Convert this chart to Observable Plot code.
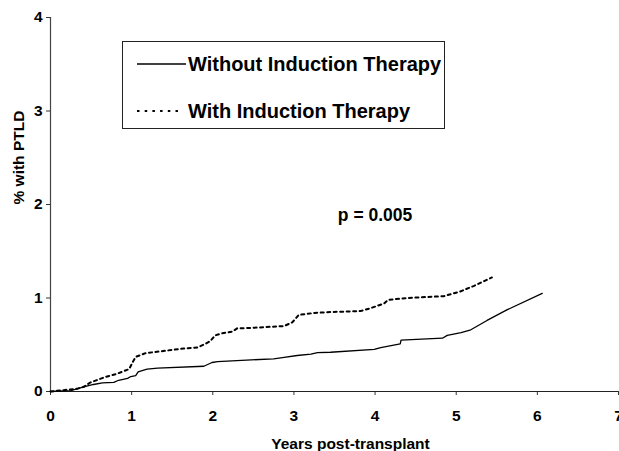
<!DOCTYPE html>
<html>
<head>
<meta charset="utf-8">
<script src="https://cdn.jsdelivr.net/npm/d3@7"></script>
<script src="https://cdn.jsdelivr.net/npm/@observablehq/plot@0.6"></script>
<style>
  html, body { margin: 0; padding: 0; background: #fff; }
  #wrap { position: relative; width: 619px; height: 451px; overflow: hidden; font-family: "Liberation Sans", Arial, sans-serif; }
  #legend { position: absolute; left: 122px; top: 41px; width: 323px; height: 88px; border: 1px solid #222; box-sizing: border-box; background: #fff; }
  .lg-row { position: absolute; left: 0; height: 24px; display: flex; align-items: center; font-weight: bold; font-size: 20px; color: #000; white-space: nowrap; }
  .lg-row svg { margin-left: 13px; margin-right: 2px; }
</style>
</head>
<body>
<div id="wrap"></div>
<script>
// Series: years post-transplant and cumulative % with PTLD
const withoutYears = [0, 0.25, 0.41, 0.53, 0.64, 0.78, 0.84, 0.95, 0.99, 1.05, 1.08, 1.19, 1.32, 1.89, 1.99, 2.06, 2.75, 2.88, 3.04, 3.21, 3.29, 3.45, 3.99, 4.07, 4.31, 4.32, 4.83, 4.89, 5.06, 5.18, 5.38, 5.63, 6.06];
const withoutPct   = [0, 0.01, 0.05, 0.075, 0.093, 0.097, 0.12, 0.14, 0.16, 0.17, 0.21, 0.24, 0.25, 0.27, 0.31, 0.32, 0.35, 0.365, 0.385, 0.40, 0.415, 0.42, 0.45, 0.47, 0.51, 0.55, 0.57, 0.60, 0.63, 0.66, 0.76, 0.875, 1.05];
const withYears = [0, 0.33, 0.41, 0.49, 0.66, 0.82, 0.97, 1.01, 1.05, 1.17, 1.36, 1.64, 1.81, 1.91, 1.97, 2.03, 2.10, 2.24, 2.30, 2.47, 2.88, 2.98, 3.06, 3.25, 3.45, 3.82, 3.94, 4.11, 4.16, 4.40, 4.85, 5.05, 5.22, 5.44];
const withPct   = [0, 0.03, 0.05, 0.096, 0.15, 0.19, 0.24, 0.31, 0.37, 0.41, 0.43, 0.46, 0.47, 0.51, 0.54, 0.60, 0.62, 0.64, 0.675, 0.68, 0.70, 0.74, 0.82, 0.84, 0.85, 0.86, 0.89, 0.94, 0.98, 1.00, 1.02, 1.07, 1.13, 1.22];

const seriesNames = ["Without Induction Therapy", "With Induction Therapy"];
const xTicks = [0, 1, 2, 3, 4, 5, 6, 7];
const yTicks = [0, 1, 2, 3, 4];
const xLabel = "Years post-transplant";
const yLabel = "% with PTLD";
const pLabel = ["p = 0.005"];
const pAt = {x: 4.0, y: 1.88};

const withoutData = withoutYears.map((t, i) => ({t, v: withoutPct[i]}));
const withData = withYears.map((t, i) => ({t, v: withPct[i]}));

const font = '"Liberation Sans", Arial, sans-serif';

const chart = Plot.plot({
  width: 619,
  height: 451,
  marginLeft: 50,
  marginRight: 1,
  marginTop: 17,
  marginBottom: 60,
  style: {fontFamily: font, fontSize: "15px", fontWeight: "bold", background: "#fff", color: "#000", overflow: "visible"},
  x: {domain: [0, 7]},
  y: {domain: [0, 4]},
  marks: [
    Plot.axisX({ticks: xTicks, tickSize: 4, tickFormat: () => "", label: null, stroke: "#333"}),
    Plot.axisY({ticks: yTicks, tickSize: 4, tickFormat: () => "", label: null, stroke: "#333"}),
    Plot.text(xTicks, {x: d => d, frameAnchor: "bottom", text: d => String(d), dy: 24.5, lineAnchor: "middle", fontSize: 15.5, fontWeight: "bold", fill: "#000"}),
    Plot.text(yTicks, {y: d => d, frameAnchor: "left", text: d => String(d), dx: -8, textAnchor: "end", lineAnchor: "middle", fontSize: 15.5, fontWeight: "bold", fill: "#000"}),
    Plot.ruleX([0], {stroke: "#444", strokeWidth: 1.2}),
    Plot.ruleY([0], {stroke: "#222", strokeWidth: 1.2}),
    Plot.line(withoutData, {x: "t", y: "v", stroke: "#000", strokeWidth: 1.3}),
    Plot.line(withData, {x: "t", y: "v", stroke: "#000", strokeWidth: 2, strokeDasharray: "3,3.5"}),
    Plot.text(pLabel, {x: () => pAt.x, y: () => pAt.y, text: d => d, fontSize: 17.5, fontWeight: "bold", fill: "#000"}),
    Plot.text([xLabel], {frameAnchor: "bottom", text: d => d, dy: 53, dx: 16, fontSize: 15.5, fontWeight: "bold", lineAnchor: "middle", fill: "#000"}),
    Plot.text([yLabel], {frameAnchor: "left", text: d => d, dx: -31, rotate: -90, fontSize: 15.5, fontWeight: "bold", lineAnchor: "middle", fill: "#000"})
  ]
});

const wrap = document.getElementById("wrap");
wrap.appendChild(chart);

const legend = document.createElement("div");
legend.id = "legend";
legend.innerHTML = `
  <div class="lg-row" style="top:10px">
    <svg width="50" height="6"><line x1="1" y1="3" x2="50" y2="3" stroke="#000" stroke-width="1.3"/></svg>${seriesNames[0]}
  </div>
  <div class="lg-row" style="top:57px">
    <svg width="50" height="6"><line x1="1" y1="3" x2="46" y2="3" stroke="#000" stroke-width="2" stroke-dasharray="2.5,5.2"/></svg>${seriesNames[1]}
  </div>`;
wrap.appendChild(legend);
</script>
</body>
</html>
